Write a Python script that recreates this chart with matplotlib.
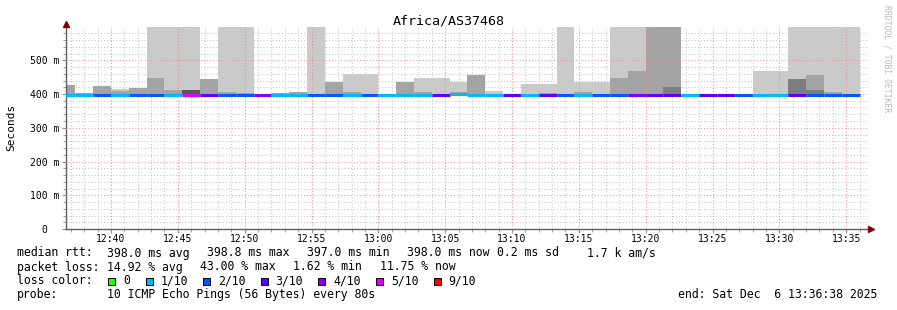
import numpy as np
import matplotlib
matplotlib.use('Agg')
import matplotlib.pyplot as plt
from matplotlib.patches import Rectangle

plt.rcParams['font.family'] = ['DejaVu Sans Mono']

FIG_W, FIG_H = 897, 310

# seconds of day: window 12:36:38 .. 13:36:38, one rrd row every 80 s
t_start = 45398
t_end = 48998
step = 80
row_start = [45360 + step * i for i in range(45)]

nan = np.nan
TOP = 700  # smoke running off the top of the graph

median_ms = [398, 398, 398, 398, 398, 398, 398, 398, 398, 398,
             398, 398, 398, 398, 398, 398, 398, 398, 398, 398,
             398, 398, 398.8, 398, 398, 398, 398, 398, 398, 398,
             398, 398, 398, 398, 398, 398, 398, 398, 398, 398,
             397.5, 398, 398, 398, 397]
loss = [1, 1, 2, 1, 2, 2, 1, 5, 3, 2,
        2, 4, 1, 1, 2, 2, 1, 2, 1, 1,
        1, 3, 1, 1, 1, 3, 1, 3, 2, 1,
        2, 2, 4, 3, 3, 1, 3, 3, 2, 1,
        1, 3, 2, 2, 2]
smoke_low = [397] * 44 + [391]
smoke_light = [nan, nan, nan, 416, nan, TOP, TOP, TOP, nan, TOP,
               TOP, nan, nan, nan, TOP, nan, 459, 459, nan, nan,
               447, 447, 437, nan, 410, nan, 430, 430, TOP, 436,
               436, TOP, TOP, nan, nan, nan, nan, nan, nan, 468,
               468, TOP, TOP, TOP, TOP]
smoke_mid = [427, 404, 424, 408, 418, 447, 411, nan, 444, 406,
             403, nan, 403, 406, nan, 436, 406, nan, nan, 436,
             406, nan, 405, 457, nan, nan, nan, 402, nan, 406,
             nan, 447, 468, TOP, TOP, nan, nan, nan, nan, nan,
             nan, nan, 456, 406, nan]
smoke_dark = [nan] * 34 + [421] + [nan] * 6 + [444, 412, nan, nan]
smoke_darker = [nan] * 7 + [412] + [nan] * 37

loss_labels = ['0', '1/10', '2/10', '3/10', '4/10', '5/10', '9/10']
loss_colors = ['#26ff00', '#00b8ff', '#0059ff', '#5e00ff', '#7e00ff', '#dd00ff', '#ff0000']
loss_index = {0: 0, 1: 1, 2: 2, 3: 3, 4: 4, 5: 5, 9: 6}

time_ticks = [45600 + 300 * i for i in range(12)]
time_labels = ['12:40', '12:45', '12:50', '12:55', '13:00', '13:05',
               '13:10', '13:15', '13:20', '13:25', '13:30', '13:35']
rtt_ticks = [0, 100, 200, 300, 400, 500]
rtt_labels = ['0  ', '100 m', '200 m', '300 m', '400 m', '500 m']

fig = plt.figure(figsize=(FIG_W / 100, FIG_H / 100), dpi=100)
fig.patch.set_facecolor('white')
ax = fig.add_axes([66 / FIG_W, 1 - 229 / FIG_H, 802 / FIG_W, 202.5 / FIG_H])
ax.set_xlim(t_start, t_end)
ax.set_ylim(0, 600)

# smoke: outer pings lightest, inner pings darker, drawn on top of each other
low = np.array(smoke_low, float)
for tops, col in [(smoke_light, '#cacaca'), (smoke_mid, '#a4a4a4'),
                  (smoke_dark, '#7e7e7e'), (smoke_darker, '#585858')]:
    tops = np.array(tops, float)
    ax.bar(row_start, tops - low, bottom=low, width=step, align='edge',
           color=col, linewidth=0, zorder=2)

# median rtt coloured by packet loss
row_end = [t + step for t in row_start]
seg_colors = [loss_colors[loss_index[l]] for l in loss]
ax.hlines(median_ms, row_start, row_end, colors=seg_colors, linewidth=2.2,
          capstyle='butt', zorder=5)

# grid
dots = (0, (1, 2))
ax.set_axisbelow(True)
ax.set_xticks(time_ticks, labels=time_labels)
ax.set_xticks(np.arange(45420, 48999, 60), minor=True)
ax.set_yticks(rtt_ticks, labels=rtt_labels)
ax.set_yticks(np.arange(20, 600, 20), minor=True)
ax.grid(which='minor', color='#c4c4c4', linestyle=dots, linewidth=0.75)
ax.grid(which='major', visible=False)
for t in time_ticks:
    ax.axvline(t, color='#f08a8a', linestyle=dots, linewidth=0.75, zorder=3)
for r in rtt_ticks[1:]:
    ax.axhline(r, color='#e89a9a', linestyle=dots, linewidth=0.75, zorder=3)

ax.tick_params(which='both', direction='out', color='#909090', labelsize=7,
               labelcolor='black')
ax.tick_params(which='major', length=3, width=0.8)
ax.tick_params(which='minor', length=2, width=0.6)
ax.tick_params(axis='x', pad=0.5)
ax.tick_params(axis='y', pad=1.5)

for side in ['top', 'right']:
    ax.spines[side].set_visible(False)
for side in ['left', 'bottom']:
    ax.spines[side].set_color('#606060')
    ax.spines[side].set_linewidth(1)
ax.spines['left'].set_bounds(0, 608)
ax.spines['bottom'].set_bounds(t_start, t_end + 10)

ax.plot([0], [1.0148], marker='^', markersize=5, color='#7f0000',
        transform=ax.transAxes, clip_on=False, zorder=6)
ax.plot([1.0035], [0], marker='>', markersize=5, color='#7f0000',
        transform=ax.transAxes, clip_on=False, zorder=6)

ax.set_facecolor('white')


def px(x, y):
    return x / FIG_W, 1 - y / FIG_H


fig.text(*px(448.5, 24), 'Africa/AS37468', fontsize=9.6, ha='center', va='baseline')
fig.text(*px(11, 127), 'Seconds', fontsize=8, rotation=90, ha='center', va='center')
fig.text(*px(887, 5), 'RRDTOOL / TOBI OETIKER', fontsize=5.8, rotation=270,
         ha='center', va='top', color='#b8b8b8')

fs = 8.3
rows = [
    (256.5, [(16.7, 'median rtt:'), (107.3, '398.0 ms avg'), (207.3, '398.8 ms max'),
             (307.3, '397.0 ms min'), (406.7, '398.0 ms now'), (497.3, '0.2 ms sd'),
             (586.7, '1.7 k am/s')]),
    (270.5, [(16.7, 'packet loss:'), (107.3, '14.92 % avg'), (200.0, '43.00 % max'),
             (293.3, '1.62 % min'), (380.0, '11.75 % now')]),
    (298.0, [(16.7, 'probe:'), (107.3, '10 ICMP Echo Pings (56 Bytes) every 80s'),
             (678.3, 'end: Sat Dec  6 13:36:38 2025')]),
]
for y, items in rows:
    for x, s in items:
        fig.text(*px(x, y), s, fontsize=fs, ha='left', va='baseline')

fig.text(*px(16.7, 284.0), 'loss color:', fontsize=fs, ha='left', va='baseline')
box_x = [108.3, 145.7, 203.3, 260.7, 318.3, 376.0, 433.7]
for bx, lab, col in zip(box_x, loss_labels, loss_colors):
    x0, y0 = px(bx, 285.3)
    fig.patches.append(Rectangle((x0, y0), 7 / FIG_W, 7.3 / FIG_H, transform=fig.transFigure,
                                 facecolor=col, edgecolor='black', linewidth=0.7))
    fig.text(*px(bx + 15, 284.0), lab, fontsize=fs, ha='left', va='baseline')

fig.savefig('out.png', dpi=100, facecolor='white')
